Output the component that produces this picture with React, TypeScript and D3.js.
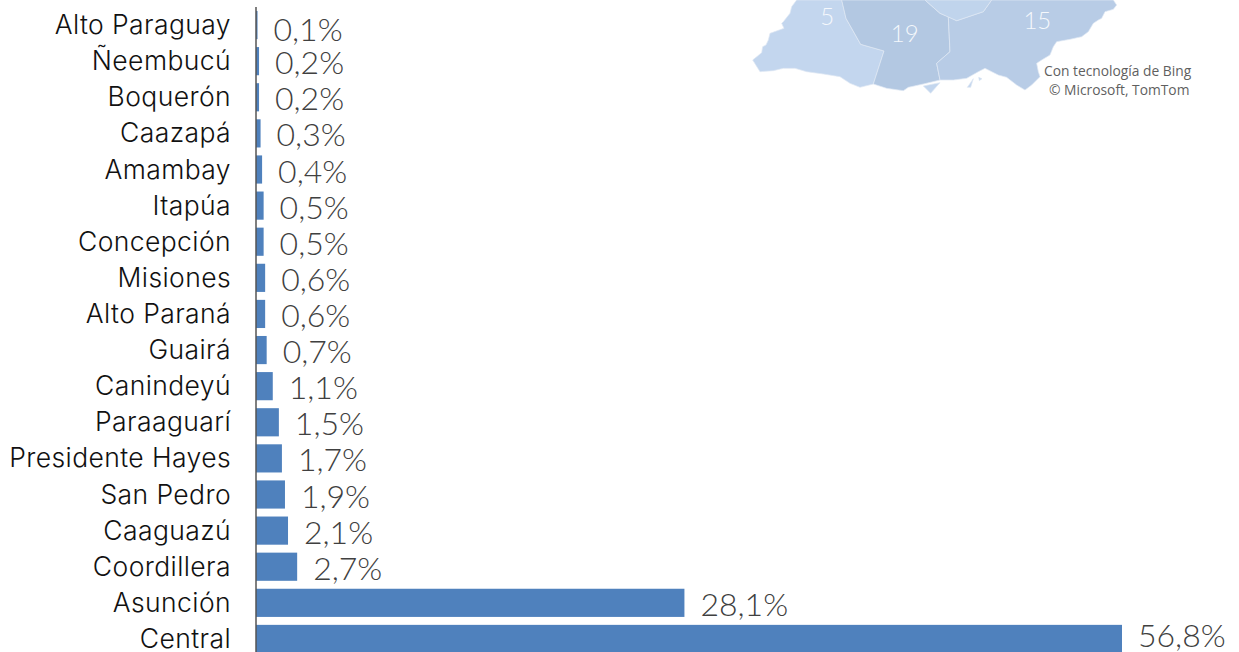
import React from "react";
import * as d3 from "d3";

const departments = ["Alto Paraguay","Ñeembucú","Boquerón","Caazapá","Amambay","Itapúa","Concepción","Misiones","Alto Paraná","Guairá","Canindeyú","Paraaguarí","Presidente Hayes","San Pedro","Caaguazú","Coordillera","Asunción","Central"];
const shares = [0.1,0.2,0.2,0.3,0.4,0.5,0.5,0.6,0.6,0.7,1.1,1.5,1.7,1.9,2.1,2.7,28.1,56.8];

const regionLeft: [number,number][] = [[170,0],[155,20],[150,40],[130,65],[125,70],[132,85],[90,100],[85,120],[78,135],[68,140],[65,158],[38,180],[60,215],[100,212],[130,205],[165,205],[200,215],[250,222],[300,230],[330,250],[360,262],[400,252],[432,153],[362,133],[318,55],[305,0]];
const regionMid: [number,number][] = [[305,0],[318,55],[362,133],[432,153],[400,252],[440,265],[490,272],[505,262],[550,252],[600,240],[590,190],[630,155],[625,50],[600,40],[555,0]];
const regionRight: [number,number][] = [[625,50],[650,62],[730,35],[755,0],[1120,0],[1130,15],[1120,28],[1095,35],[1085,55],[1075,60],[1060,70],[1045,95],[1025,110],[990,118],[950,125],[940,140],[930,165],[905,180],[890,190],[895,215],[900,230],[875,255],[855,270],[830,255],[800,232],[775,225],[735,205],[715,215],[680,235],[640,240],[600,240],[590,190],[630,155]];
const regionTop: [number,number][] = [[555,0],[600,40],[650,62],[730,35],[755,0]];
const regionIsland: [number,number][] = [[550,258],[600,248],[572,280]];
const regionIslet: [number,number][] = [[682,262],[700,236],[692,262]];
const regionSpeck: [number,number][] = [[716,232],[726,236],[718,242]];
const mapRegions = [
  { pts: regionLeft, fill: "#c3d6ee" },
  { pts: regionMid, fill: "#b3c8e2" },
  { pts: regionRight, fill: "#b8cce6" },
  { pts: regionTop, fill: "#c0d4ec" },
  { pts: regionIsland, fill: "#c3d6ee" },
  { pts: regionIslet, fill: "#c3d6ee" },
  { pts: regionSpeck, fill: "#c3d6ee" },
];
const mapNumbers: [string, number, number][] = [["5",262,52],["19",494,102],["15",892,63]];
const credits = ["Con tecnología de Bing", "© Microsoft, TomTom"];

const W = 1239, H = 652;
const AXIS_X = 256;

export default function App() {
  const x = d3.scaleLinear().domain([0, 56.8]).range([AXIS_X, 1122]);
  const y = d3.scaleBand<string>().domain(departments).range([7, 657]).paddingInner(0.22).paddingOuter(0.11);
  const mx = d3.scaleLinear().domain([0, 400]).range([740, 873.33]);
  const my = d3.scaleLinear().domain([0, 110]).range([0, 36.67]);
  const line = d3.line<[number,number]>().x(d => mx(d[0])).y(d => my(d[1])).curve(d3.curveLinearClosed);
  const labelFont = "Inter, Lato, sans-serif";
  const valueFont = "Lato, sans-serif";
  return (
    <svg width={W} height={H} style={{ position: "fixed", left: 0, top: 0, background: "#fff" }}>
      <g>
        {mapRegions.map((r, i) => (
          <path key={i} d={line(r.pts) ?? ""} fill={r.fill} stroke="#dfe8f4" strokeWidth={0.7} />
        ))}
        {mapNumbers.map(([t, a, b]) => (
          <text key={t} x={mx(a)} y={my(b) + 8} textAnchor="middle" fontFamily={valueFont} fontWeight={300} fontSize={24} fill="#f5f8fc">{t}</text>
        ))}
        {credits.map((t, i) => (
          <text key={t} x={i === 0 ? 1044 : 1049} y={76 + i * 19} fontFamily="'Open Sans', sans-serif" fontSize={13.8} fill="#5f5f5f">{t}</text>
        ))}
      </g>
      {departments.map((d, i) => {
        const cy = y(d)! + y.bandwidth() / 2;
        const valueY = Math.min(647, Math.max(41, cy + 13));
        return (
          <g key={d}>
            <rect x={AXIS_X} y={y(d)} width={x(shares[i]) - AXIS_X} height={y.bandwidth()} fill="#4f81bd" />
            <text x={231} y={cy + 9} textAnchor="end" fontFamily={labelFont} fontWeight={300} fontSize={26.5} letterSpacing={0.4} fill="#111">{d}</text>
            <text x={x(shares[i]) + 16} y={valueY} fontFamily={valueFont} fontWeight={300} fontSize={32} fill="#404040">{shares[i].toFixed(1).replace(".", ",")}%</text>
          </g>
        );
      })}
      <line x1={AXIS_X} x2={AXIS_X} y1={7} y2={H} stroke="#555" strokeWidth={1.5} />
    </svg>
  );
}
